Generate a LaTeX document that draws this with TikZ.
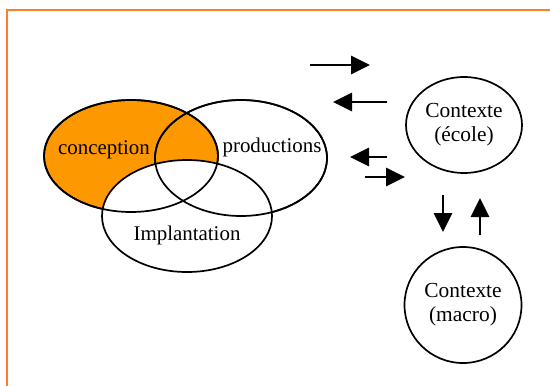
\documentclass[tikz,border=0pt]{standalone}
\usepackage{fontspec}
\setmainfont{Liberation Serif}
\usetikzlibrary{shapes.geometric,arrows.meta}
\definecolor{frameorange}{RGB}{255,125,40}
\definecolor{fillorange}{RGB}{253,152,0}
\tikzset{
  setline/.style={draw=black, line width=1.7bp},
  setellipse/.style={ellipse, inner sep=0pt, setline},
  lbl/.style={font=\fontsize{21}{25}\selectfont, text=black, inner sep=0pt},
  ctx/.style={ellipse, inner sep=0pt, setline, align=center, font=\fontsize{21.5}{24}\selectfont},
  flow/.style={line width=2.8bp, -{Triangle[length=19bp,width=18bp]}}
}
\begin{document}
\begin{tikzpicture}[x=1bp,y=-1bp]
\useasboundingbox (0,0) rectangle (550,385);
% frame
\draw[frameorange, line width=2.2bp] (7,386) -- (7,10) -- (551,10);
% sets
\node[setellipse, fill=fillorange, minimum width=174bp, minimum height=112bp] (conc) at (131,156) {};
\node[setellipse, minimum width=172bp, minimum height=116bp] (prod) at (241,158) {};
\node[setellipse, fill=white, minimum width=170bp, minimum height=112bp] (impl) at (187,216) {};
% outlines on top
\draw[setline] (conc.center) ellipse [x radius=87, y radius=56];
\draw[setline] (prod.center) ellipse [x radius=86, y radius=58];
% labels
\node[lbl] (tconc) at (104,150) {conception};
\node[lbl] (tprod) at (272,147) {productions};
\node[lbl] (timpl) at (187,235) {Implantation};
% contexts
\node[ctx, minimum width=116bp, minimum height=96bp] (ecole) at (464,125) {Contexte\\(école)};
\node[ctx, minimum width=117bp, minimum height=116bp] (macro) at (463,305) {Contexte\\(macro)};
% arrows
\coordinate (a1s) at (310,65);  \coordinate (a1e) at (370,65);
\coordinate (a2s) at (387,102); \coordinate (a2e) at (333,102);
\coordinate (a3s) at (387,157); \coordinate (a3e) at (350,157);
\coordinate (a4s) at (365,177); \coordinate (a4e) at (405,177);
\coordinate (a5s) at (443,195); \coordinate (a5e) at (443,232);
\coordinate (a6s) at (480,235); \coordinate (a6e) at (480,198);
\draw[flow] (a1s) -- (a1e);
\draw[flow] (a2s) -- (a2e);
\draw[flow] (a3s) -- (a3e);
\draw[flow] (a4s) -- (a4e);
\draw[flow] (a5s) -- (a5e);
\draw[flow] (a6s) -- (a6e);
\end{tikzpicture}
\end{document}
